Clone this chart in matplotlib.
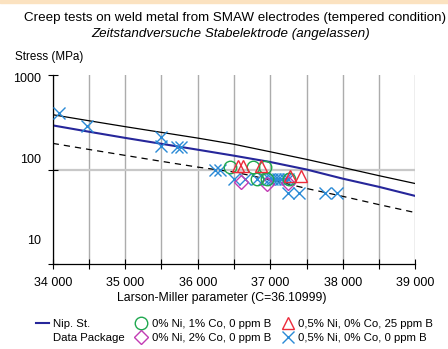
import matplotlib
matplotlib.use('Agg')
import matplotlib.pyplot as plt
import matplotlib.transforms as mtransforms
from matplotlib.lines import Line2D
from matplotlib.patches import Rectangle
from matplotlib.ticker import NullLocator

plt.rcParams['font.family'] = ['Liberation Sans', 'DejaVu Sans']

# master curves: Larson-Miller parameter -> stress (MPa)
lmp_curve = [34000, 34500, 35000, 35500, 36000, 36500, 37000, 37500, 38000, 38500, 39000]
upper_curve = [380, 328, 284, 247, 215, 185, 154, 128, 105, 86, 71]
mean_curve = [293, 251, 216, 187, 162, 140, 120, 100, 80, 65.5, 52.5]
lower_curve = [189, 163, 141, 122, 106, 94, 78, 63, 52, 42.5, 35]

# test results
ni0_co1_lmp = [36440, 36760, 36930, 36820, 36950, 37260]
ni0_co1_stress = [105, 105, 105, 79, 79, 79]

ni0_co2_lmp = [36600, 36950, 37250]
ni0_co2_stress = [73, 71, 72]

ni05_b25_lmp = [36550, 36630, 36870, 37270, 37430]
ni05_b25_stress = [108, 108, 108, 85, 85]

ni05_b0_lmp = [34090, 34470, 35500, 35500, 35710, 35770, 36240, 36310, 36500, 36650,
               36820, 36910, 36980, 37020, 37070, 37110, 37150, 37200, 37250,
               37250, 37390, 37750, 37920]
ni05_b0_stress = [398, 288, 221, 177, 175, 175, 100, 100, 80, 80,
                  80, 80, 80, 80, 80, 80, 80, 80, 80,
                  57, 57, 57, 57]

x_major = [34000, 35000, 36000, 37000, 38000, 39000]
x_minor = [34500, 35500, 36500, 37500, 38500]
y_ticks = [10, 100, 1000]
y_labels = ['10', '100', '1000']

W, H = 448, 349
fig = plt.figure(figsize=(W / 100, H / 100), dpi=100)
ax = fig.add_axes([52.7 / W, 1 - 264 / H, 362.6 / W, 189 / H])

# peach band at the very top
fig.patches.append(Rectangle((0, 1 - 3 / H), 1, 3 / H, transform=fig.transFigure,
                             color='#fbe2c0', zorder=0))

ax.plot(lmp_curve, upper_curve, color='black', lw=0.9, zorder=2)
ax.plot(lmp_curve, lower_curve, color='black', lw=0.9, ls=(0, (5, 4)), zorder=2)
nip, = ax.plot(lmp_curve, mean_curve, color='#26269a', lw=1.5, zorder=2)

ms = 9
x_h, = ax.plot(ni05_b0_lmp, ni05_b0_stress, ls='none', marker='x', ms=8, mew=1,
               color='#2a8ad6', zorder=3)
dia_h, = ax.plot(ni0_co2_lmp, ni0_co2_stress, ls='none', marker='D', ms=7, mew=1,
                 mfc='none', mec='#c23bb4', zorder=4)
circ_h, = ax.plot(ni0_co1_lmp, ni0_co1_stress, ls='none', marker='o', ms=ms, mew=1,
                  mfc='none', mec='#1fa84f', zorder=5)
tri_h, = ax.plot(ni05_b25_lmp, ni05_b25_stress, ls='none', marker='^', ms=ms, mew=1,
                 mfc='none', mec='#ec2a3a', zorder=6)

ax.set_xlim(34000, 39000)
ax.set_yscale('log')
ax.set_ylim(10, 1000)
ax.set_xticks(x_major)
ax.set_xticklabels([f'{v:,}'.replace(',', ' ') for v in x_major])
ax.set_xticks(x_minor, minor=True)
ax.set_yticks(y_ticks)
ax.set_yticklabels(y_labels)
ax.yaxis.set_minor_locator(NullLocator())

ax.tick_params(axis='both', which='both', direction='inout', length=7, width=0.8,
               labelsize=9, colors='black')
ax.tick_params(axis='x', pad=6)
ax.tick_params(axis='y', pad=5)

ax.grid(axis='x', which='both', color='#acacac', lw=1)
ax.grid(axis='y', which='major', color='#c8c8c8', lw=1.6)
for t in ax.yaxis.get_major_ticks():
    if t.get_loc() != 100:
        t.gridline.set_visible(False)
ax.set_axisbelow(True)

for s in ('top', 'right'):
    ax.spines[s].set_visible(False)
for s in ('left', 'bottom'):
    ax.spines[s].set_linewidth(0.9)

# the y labels sit a bit above their ticks in the original
shifts = {'10': 25, '100': 11, '1000': -2}
for lab in ax.get_yticklabels():
    dy = shifts.get(lab.get_text(), 0)
    lab.set_transform(lab.get_transform() +
                      mtransforms.ScaledTranslation(0, dy / 100, fig.dpi_scale_trans))

ax.set_xlabel('Larson-Miller parameter (C=36.10999)', fontsize=8.8, va='center')
ax.xaxis.set_label_coords((222 - 52.7) / 362.6, -34.5 / 189)

fig.text(15 / W, 1 - 57 / H, 'Stress (MPa)', fontsize=8.4, va='center', ha='left')
fig.text(235 / W, 1 - 18 / H,
         'Creep tests on weld metal from SMAW electrodes (tempered condition)',
         fontsize=9.6, ha='center', va='center')
fig.text(231 / W, 1 - 34 / H, 'Zeitstandversuche Stabelektrode (angelassen)',
         fontsize=9.6, ha='center', va='center', style='italic')

blank = Line2D([], [], color='none')
fig.legend([nip, blank, circ_h, dia_h, tri_h, x_h],
           ['Nip. St.', 'Data Package', '0% Ni, 1% Co, 0 ppm B', '0% Ni, 2% Co, 0 ppm B',
            '0,5% Ni, 0% Co, 25 ppm B', '0,5% Ni, 0% Co, 0 ppm B'],
           ncol=3, loc='center left', bbox_to_anchor=(36 / W, 1 - 331.3 / H),
           frameon=False, fontsize=8.2, handlelength=1.1, handletextpad=0.35,
           columnspacing=0.95, labelspacing=0.35, borderpad=0, borderaxespad=0)

fig.savefig('out.png', dpi=100)
